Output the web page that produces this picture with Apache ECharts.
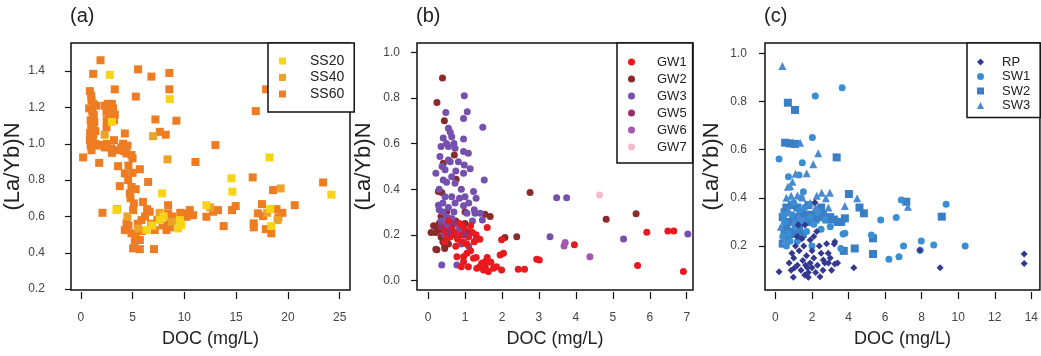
<!DOCTYPE html>
<html>
<head>
<meta charset="utf-8">
<script src="https://cdn.jsdelivr.net/npm/echarts@6/dist/echarts.min.js"></script>
<style>
html,body{margin:0;padding:0;background:#fff;}
#chart{width:1041px;height:356px;}
</style>
</head>
<body>
<div id="chart"></div>
<script>
// ---------- tick labels ----------
const xTicksA = [0, 5, 10, 15, 20, 25];
const yTicksA = [0.2, 0.4, 0.6, 0.8, 1.0, 1.2, 1.4];
const xTicksB = [0, 1, 2, 3, 4, 5, 6, 7];
const yTicksB = [0.0, 0.2, 0.4, 0.6, 0.8, 1.0];
const xTicksC = [0, 2, 4, 6, 8, 10, 12, 14];
const yTicksC = [0.2, 0.4, 0.6, 0.8, 1.0];

// ---------- panel (a): [DOC, (La/Yb)N] ----------
const SS20 = [[2.8,1.38],[8.59,1.246],[3.44,0.635],[7.85,0.727],[6.34,0.525],[7.63,0.58],[9.4,0.534],[9.56,0.58],
  [18.24,0.925],[14.55,0.81],[14.64,0.736],[24.2,0.72],[9.7,0.552],[12.13,0.662],[18.3,0.642],[18.4,0.547],
  [3.0,1.12],[6.9,0.55],[8.0,0.6]];
const SS40 = [[19.3,0.754],[8.37,0.914],[5.53,0.534],[6.98,1.042],[3.5,0.64],[7.6,0.62],[8.8,0.57],[18.0,0.62],
  [4.5,0.6],[12.5,0.65],[2.3,1.05],[19.0,0.58]];
const SS60 = [[1.9,1.46],[1.19,1.385],[5.53,1.41],[6.82,1.37],[8.55,1.39],[3.28,1.30],[8.55,1.30],[5.31,1.26],
  [0.87,1.29],[1.0,1.265],[1.03,1.24],[0.8,1.195],[1.5,1.21],[1.2,1.22],[2.64,1.20],[3.12,1.195],[2.48,1.176],
  [2.3,1.21],[3.28,1.16],[2.8,1.14],[1.19,1.14],[1.3,1.12],[1.19,1.09],[1.0,1.1],[2.48,1.09],[7.2,1.134],
  [9.23,1.127],[1.19,1.05],[0.9,1.06],[4.25,1.057],[7.63,1.066],[8.2,1.05],[0.87,1.02],[1.4,1.0],[2.0,0.993],
  [2.48,1.0],[2.3,0.98],[2.96,0.975],[3.6,0.965],[4.08,1.0],[4.41,0.947],[4.89,0.938],[0.22,0.925],[1.77,0.895],
  [1.03,0.965],[3.6,0.877],[4.25,0.837],[5.7,0.86],[4.57,0.80],[3.76,0.767],[6.5,0.79],[4.89,0.763],[4.73,0.727],
  [5.12,0.672],[6.0,0.68],[5.05,0.635],[2.09,0.62],[8.43,0.662],[8.43,0.617],[6.66,0.626],[5.86,0.58],[4.41,0.562],
  [4.25,0.525],[4.89,0.507],[7.14,0.525],[8.27,0.525],[8.59,0.57],[10.04,0.617],[5.21,0.46],[5.05,0.424],[5.7,0.42],
  [7.07,0.42],[16.9,1.18],[13.0,0.993],[11.07,0.90],[16.6,0.815],[18.56,0.745],[23.4,0.787],[20.66,0.662],
  [10.52,0.635],[10.84,0.607],[10.2,0.598],[12.13,0.598],[12.77,0.626],[13.25,0.635],[13.8,0.547],[14.6,0.635],
  [14.96,0.657],[17.5,0.668],[17.1,0.617],[17.6,0.602],[16.7,0.562],[16.7,0.54],[18.9,0.64],[19.47,0.62],
  [19.08,0.595],[17.86,0.53],[18.4,0.507],[17.9,1.30],
  [1.1,1.18],[1.25,1.16],[0.95,1.13],[1.4,1.07],[1.15,1.03],[1.5,0.99],[0.95,0.99],
  [2.6,1.22],[3.0,1.22],[2.9,1.18],[3.2,1.13],[2.5,1.13],
  [3.2,1.02],[3.9,0.98],[4.5,0.99],[3.0,0.95],[5.0,0.92],[4.2,0.96],
  [4.6,0.88],[5.0,0.84],[4.8,0.70],[5.3,0.75],
  [5.5,0.56],[5.9,0.52],[6.2,0.6],[6.8,0.56],[7.4,0.58],[7.9,0.55],[8.8,0.6],[9.6,0.62],[6.4,0.64],[5.3,0.5],
  [4.6,0.55],[5.7,0.47],[8.6,0.54],[9.2,0.58]];

// ---------- panel (b) ----------
const GW1 = [[1.6,0.232],[1.99,0.178],[0.78,0.104],[0.96,0.082],[1.09,0.06],[1.23,0.097],[1.32,0.053],[1.5,0.046],
  [1.54,0.082],[1.63,0.039],[1.77,0.053],[1.99,0.046],[1.95,0.112],[2.04,0.119],[0.96,0.104],[1.05,0.119],[1.4,0.06],
  [1.45,0.075],[1.6,0.1],[1.7,0.08],[1.85,0.06],[1.15,0.13],[0.9,0.06],[1.3,0.1],[1.55,0.06],
  [0.5,0.2],[0.6,0.19],[0.7,0.21],[0.8,0.18],[0.9,0.2],[1.0,0.22],[1.1,0.19],[1.2,0.21],[1.3,0.2],[0.65,0.23],
  [0.85,0.25],[1.05,0.16],[0.75,0.15],[1.25,0.17],[0.55,0.26],[1.4,0.18],[0.95,0.17],[1.15,0.24],[0.45,0.22],
  [0.91,0.243],[0.46,0.17],
  [3.96,0.156],[5.92,0.211],[6.49,0.217],[6.65,0.217],[2.94,0.093],[3.01,0.09],[2.44,0.049],[2.61,0.049],
  [5.67,0.065],[6.91,0.039]];
const GW2 = [[0.39,0.887],[0.24,0.78],[0.44,0.70],[0.71,0.55],[0.76,0.444],[0.28,0.39],[0.41,0.514],[1.54,0.29],
  [1.68,0.28],[0.08,0.21],[0.21,0.137],[2.08,0.188],[2.4,0.192],[2.76,0.385],[4.82,0.268],[5.63,0.292],[0.3,0.22],
  [0.35,0.19],[0.4,0.17],[0.45,0.15],[0.5,0.18],[0.3,0.25],[0.25,0.23],[0.55,0.16],[0.6,0.27],[0.75,0.26],[0.4,0.24],
  [0.2,0.21],[0.5,0.3],[0.35,0.28],[0.65,0.2],[0.15,0.24],[1.1,0.21],[1.0,0.25],[0.45,0.14],[0.8,0.19],[1.0,0.3],
  [0.37,0.385],[0.24,0.134]];
const GW3 = [[0.98,0.81],[0.48,0.736],[1.06,0.74],[0.96,0.71],[1.48,0.672],[0.55,0.667],[0.6,0.65],[0.41,0.624],
  [0.64,0.63],[0.35,0.587],[0.55,0.587],[0.73,0.58],[0.96,0.62],[0.96,0.565],[1.09,0.558],[0.32,0.543],[0.55,0.528],
  [0.82,0.52],[0.98,0.506],[1.14,0.49],[0.21,0.47],[0.46,0.485],[0.96,0.47],[0.64,0.455],[0.41,0.44],[1.52,0.44],
  [0.73,0.426],[1.23,0.39],[1.3,0.36],[1.0,0.367],[0.46,0.367],[0.64,0.367],[0.73,0.339],[0.96,0.327],[0.28,0.33],
  [1.27,0.295],[1.05,0.295],[1.41,0.295],[1.47,0.265],[0.37,0.068],[0.78,0.068],[3.48,0.363],[3.75,0.363],
  [7.03,0.203],[3.3,0.192],[5.29,0.182],
  [0.4,0.3],[0.5,0.28],[0.35,0.26],[0.45,0.25],[0.6,0.24],[0.55,0.32],[0.7,0.3],[0.4,0.34],[0.3,0.31],[0.5,0.22],
  [0.65,0.27],[0.85,0.23],[0.45,0.2],[0.6,0.2],[0.8,0.21],[1.2,0.26],[0.9,0.4],[0.75,0.48],[0.5,0.43],[0.38,0.5],
  [0.6,0.52],[0.85,0.36],[1.1,0.34],[0.3,0.4],[1.3,0.18],[1.1,0.15],[0.9,0.16],[0.5,0.6],[0.7,0.6],[1.25,0.31]];
const GW5 = [[0.35,0.235],[0.55,0.21],[0.7,0.25],[1.0,0.2]];
const GW6 = [[3.71,0.166],[3.68,0.151],[4.38,0.104]];
const GW7 = [[4.64,0.375]];

// ---------- panel (c) ----------
const RP = [[0.2,0.093],[0.98,0.07],[0.86,0.1],[2.44,0.073],[3.07,0.1],[3.25,0.125],[4.29,0.11],[3.25,0.218],
  [1.25,0.287],[1.62,0.287],[2.26,0.26],[1.9,0.225],[2.89,0.17],[2.62,0.142],[2.16,0.381],[3.22,0.208],[9.01,0.11],
  [13.61,0.167],[13.61,0.128],[7.9,0.183],
  [1.0,0.15],[1.2,0.12],[1.4,0.1],[1.6,0.08],[1.8,0.09],[2.0,0.11],[1.5,0.14],[1.7,0.16],[1.9,0.13],[2.1,0.15],
  [2.3,0.12],[1.3,0.18],[1.1,0.2],[0.9,0.17],[2.5,0.17],[2.7,0.13],[2.2,0.09],[1.55,0.2],[1.75,0.11],[2.0,0.18],
  [2.4,0.2],[1.2,0.24],[1.8,0.07],[2.9,0.13],[3.4,0.13],[2.1,0.24],[1.45,0.23],[0.75,0.13],[2.6,0.1],[1.65,0.12],
  [1.05,0.11],[2.8,0.21],[3.0,0.15]];
const SW1 = [[3.65,0.857],[2.18,0.823],[2.02,0.651],[0.2,0.561],[1.47,0.546],[1.29,0.495],[0.71,0.488],[1.53,0.425],
  [3.8,0.253],[5.25,0.246],[5.76,0.308],[6.61,0.319],[6.89,0.391],[9.34,0.374],[3.58,0.19],[7.01,0.2],[6.76,0.156],
  [6.21,0.145],[7.98,0.221],[7.92,0.183],[8.66,0.204],[10.38,0.2],[3.7,0.25],
  [0.5,0.3],[0.7,0.25],[0.9,0.33],[1.1,0.28],[1.3,0.35],[1.5,0.3],[1.7,0.26],[1.9,0.32],[2.1,0.29],[2.3,0.34],
  [2.5,0.27],[0.6,0.2],[0.8,0.22],[1.0,0.38],[1.4,0.4],[2.7,0.31],[3.0,0.28],[0.4,0.24],[1.2,0.22],[1.6,0.36],
  [2.0,0.2],[0.45,0.33]];
const SW2 = [[0.68,0.795],[1.07,0.765],[0.53,0.629],[0.8,0.626],[1.07,0.624],[3.35,0.568],[4.02,0.416],[4.6,0.36],
  [4.84,0.336],[3.8,0.315],[5.34,0.232],[7.16,0.384],[9.1,0.322],[4.34,0.19],[3.74,0.18],[5.34,0.167],
  [0.4,0.32],[0.6,0.28],[0.8,0.3],[1.0,0.32],[1.2,0.3],[1.4,0.34],[1.6,0.33],[1.8,0.3],[2.0,0.33],[2.2,0.31],
  [2.4,0.32],[2.6,0.33],[2.8,0.31],[3.0,0.32],[3.2,0.31],[3.4,0.3],[0.5,0.26],[0.7,0.23],[0.9,0.26],[1.1,0.25],
  [1.3,0.27],[0.4,0.21],[0.6,0.36],[0.9,0.37],[1.2,0.36],[2.5,0.36],[1.8,0.37],[0.5,0.34],[3.6,0.3],[1.5,0.25]];
const SW3 = [[0.38,0.947],[1.35,0.629],[2.34,0.585],[2.07,0.54],[1.71,0.502],[0.93,0.467],[0.8,0.449],[0.68,0.446],
  [0.86,0.409],[1.47,0.402],[2.26,0.409],[2.53,0.421],[2.76,0.398],[2.98,0.421],[3.8,0.366],[4.47,0.398],
  [7.25,0.363],[1.1,0.5],[0.6,0.4],[1.9,0.38],[2.9,0.36],[1.2,0.41],
  [0.3,0.28],[0.5,0.22],[0.7,0.35],[1.0,0.3],[1.3,0.32],[2.2,0.36]];

// ---------- build ----------
const FONT = 'Liberation Sans, Arial, sans-serif';
const grids = [
  {left: 71, top: 43, width: 279, height: 247},
  {left: 417, top: 43, width: 276, height: 247},
  {left: 765, top: 43, width: 277, height: 247}
].map(g => Object.assign(g, {show: true, borderColor: '#111', borderWidth: 1.5, backgroundColor: 'transparent'}));

function xAxis(i, min, max, ticks) {
  return {
    gridIndex: i, type: 'value', min: min, max: max, offset: 2,
    axisLine: {show: false, onZero: false},
    axisTick: {show: true, length: 7, customValues: ticks, lineStyle: {color: '#111', width: 1.2}},
    axisLabel: {customValues: ticks, margin: 20, fontSize: 12, color: '#444', fontFamily: FONT},
    splitLine: {show: false},
    name: 'DOC (mg/L)', nameLocation: 'middle', nameGap: 38,
    nameTextStyle: {fontSize: 18, color: '#222', fontFamily: FONT}
  };
}
function yAxis(i, min, max, ticks, margin, nameGap) {
  return {
    gridIndex: i, type: 'value', min: min, max: max,
    axisLine: {show: false, onZero: false},
    axisTick: {show: true, length: 6, customValues: ticks, lineStyle: {color: '#111', width: 1.2}},
    axisLabel: {customValues: ticks, margin: margin, fontSize: 12, color: '#444', fontFamily: FONT,
      formatter: v => Number(v).toFixed(1)},
    splitLine: {show: false},
    name: '(La/Yb)N', nameLocation: 'middle', nameGap: nameGap,
    nameTextStyle: {fontSize: 22, color: '#222', fontFamily: FONT}
  };
}
function sc(name, data, i, color, symbol, size) {
  return {name: name, type: 'scatter', xAxisIndex: i, yAxisIndex: i, data: data,
    symbol: symbol, symbolSize: size, itemStyle: {color: color, opacity: 1}, emphasis: {disabled: true}};
}
function legend(names, left, pad, gap, fs, textPad) {
  return {
    data: names, orient: 'vertical', left: left, top: 43,
    padding: pad, itemGap: gap, itemWidth: 7, itemHeight: 7,
    backgroundColor: '#fff', borderColor: '#111', borderWidth: 1.5, borderRadius: 0,
    textStyle: {fontSize: fs, color: '#222', fontFamily: FONT, lineHeight: 14, padding: [0, 0, 0, textPad]},
    selectedMode: false
  };
}

const option = {
  animation: false,
  backgroundColor: '#fff',
  title: [
    {text: '(a)', left: 70, top: 6, padding: 0, textStyle: {fontSize: 20, fontWeight: 'normal', color: '#222', fontFamily: FONT}},
    {text: '(b)', left: 416, top: 6, padding: 0, textStyle: {fontSize: 20, fontWeight: 'normal', color: '#222', fontFamily: FONT}},
    {text: '(c)', left: 764, top: 6, padding: 0, textStyle: {fontSize: 20, fontWeight: 'normal', color: '#222', fontFamily: FONT}}
  ],
  grid: grids,
  xAxis: [xAxis(0, -0.95, 26, xTicksA), xAxis(1, -0.3, 7.17, xTicksB), xAxis(2, -0.57, 14.47, xTicksC)],
  yAxis: [yAxis(0, 0.195, 1.555, yTicksA, 26, 44), yAxis(1, -0.042, 1.041, yTicksB, 17, 42), yAxis(2, 0.0175, 1.043, yTicksC, 18, 42)],
  legend: [
    legend(['SS20', 'SS40', 'SS60'], 268, [11, 10, 11, 11], 2.5, 14, 19),
    legend(['GW1', 'GW2', 'GW3', 'GW5', 'GW6', 'GW7'], 617, [12, 6, 9, 11], 3, 13, 17),
    legend(['RP', 'SW1', 'SW2', 'SW3'], 967, [12, 10, 5, 10], 0.5, 13, 13)
  ],
  series: [
    sc('SS60', SS60, 0, '#ee7c22', 'rect', 8),
    sc('SS40', SS40, 0, '#eda22a', 'rect', 8),
    sc('SS20', SS20, 0, '#f7d417', 'rect', 8),
    sc('GW2', GW2, 1, '#8b2a2a', 'circle', 7),
    sc('GW3', GW3, 1, '#7650ad', 'circle', 7),
    sc('GW1', GW1, 1, '#e8191f', 'circle', 7),
    sc('GW5', GW5, 1, '#9c2f6a', 'circle', 7),
    sc('GW6', GW6, 1, '#a655b0', 'circle', 7),
    sc('GW7', GW7, 1, '#f5b9c9', 'circle', 7),
    sc('SW2', SW2, 2, '#3a7ec6', 'rect', 8),
    sc('SW1', SW1, 2, '#3a8ed4', 'circle', 7),
    sc('SW3', SW3, 2, '#4a8ad0', 'triangle', 8),
    sc('RP', RP, 2, '#333990', 'diamond', 7)
  ]
};
const chart = echarts.init(document.getElementById('chart'), null, {renderer: 'canvas'});
chart.setOption(option);
</script>
</body>
</html>
